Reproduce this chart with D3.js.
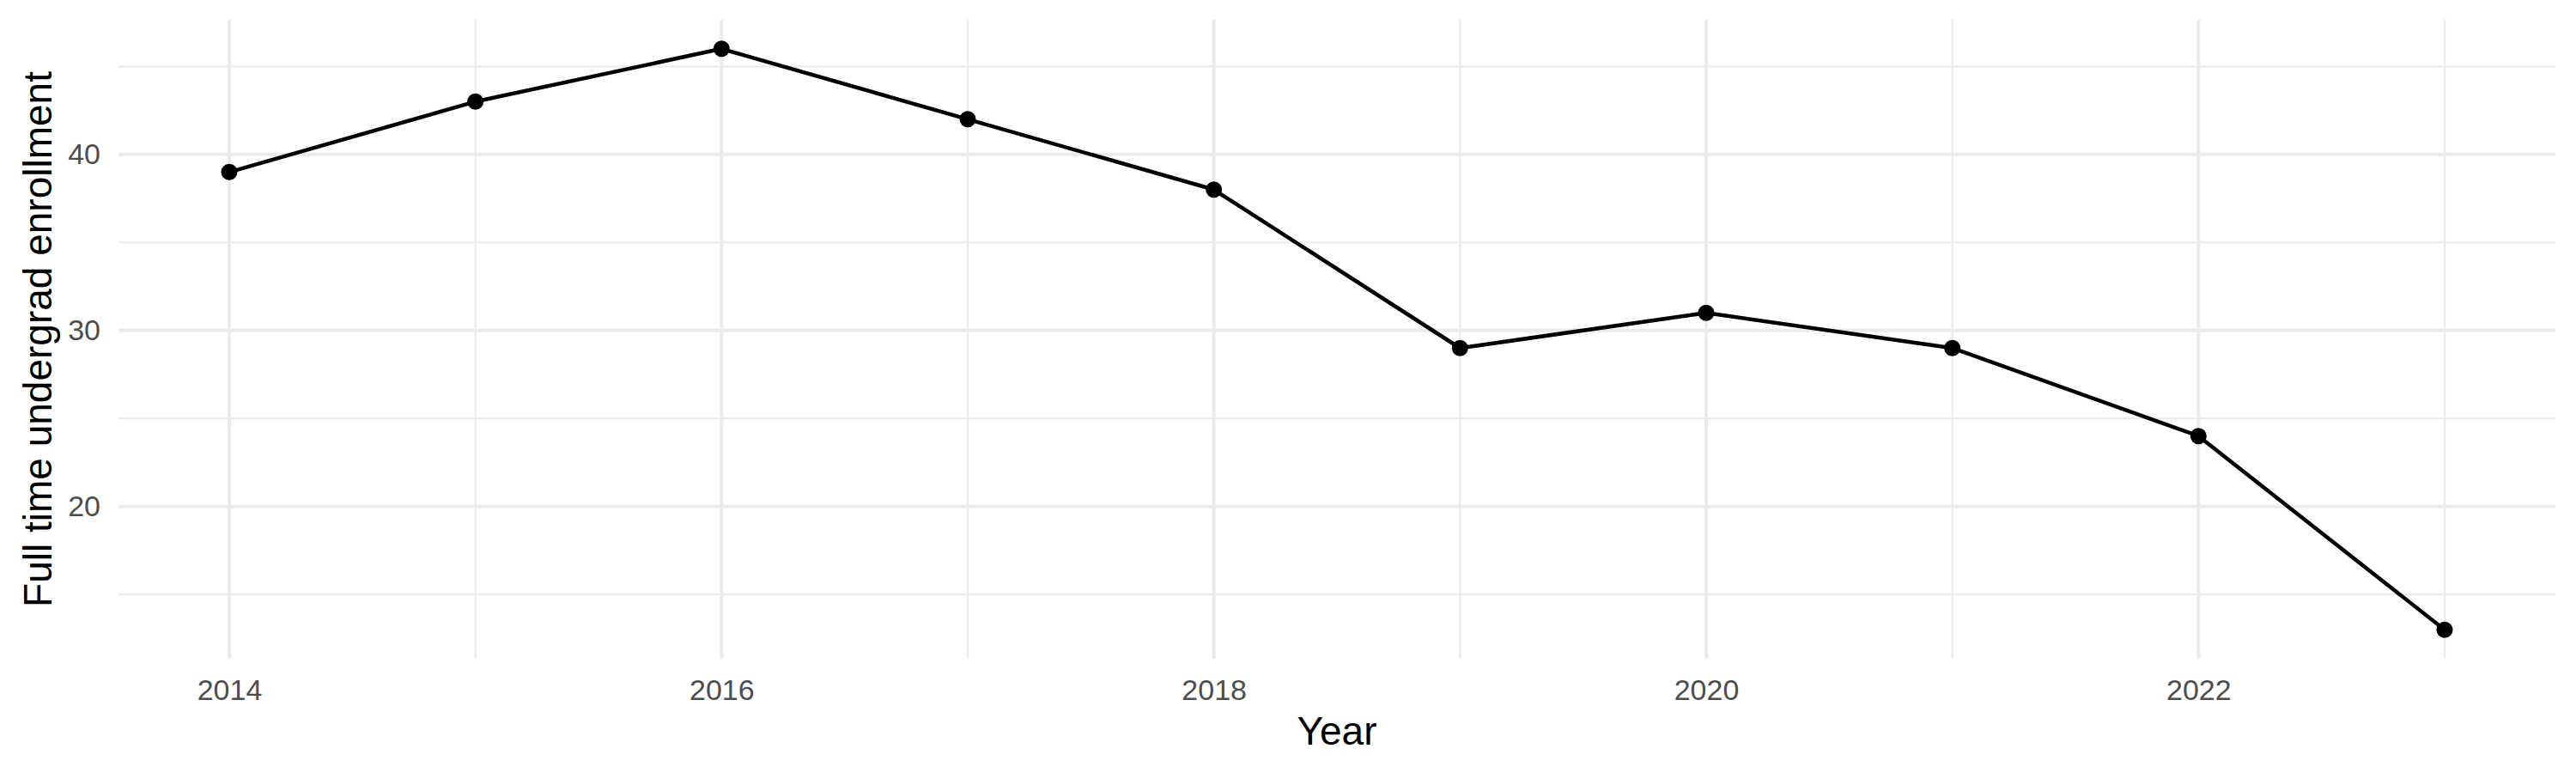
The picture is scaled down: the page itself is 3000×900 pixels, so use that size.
<!DOCTYPE html>
<html lang="en">
<head>
  <meta charset="UTF-8">
  <title>Full time undergrad enrollment</title>
  <script src="https://d3js.org/d3.v7.min.js"></script>
  <style>
    body {
      margin: 0;
      padding: 0;
      background: white;
    }
    svg {
      display: block;
      font-family: 'Liberation Sans', Arial, sans-serif;
    }
    .tick text {
      fill: #4d4d4d;
      font-size: 34px;
    }
    .axis-title {
      fill: black;
      font-size: 46px;
    }
  </style>
</head>
<body>
  <div id="chart"></div>

  <script>
    const years = [2014, 2015, 2016, 2017, 2018, 2019, 2020, 2021, 2022, 2023];
    const enrollment = [39, 43, 46, 42, 38, 29, 31, 29, 24, 13];
    const xBreaks = [2014, 2016, 2018, 2020, 2022];
    const xMinor = [2015, 2017, 2019, 2021, 2023];
    const yBreaks = [20, 30, 40];
    const yMinor = [15, 25, 35, 45];

    const data = years.map((y, i) => ({ year: y, value: enrollment[i] }));

    const width = 3000, height = 900;
    const margin = { top: 23, right: 24, bottom: 133, left: 138 };

    const svg = d3.select("#chart").append("svg")
      .attr("width", width)
      .attr("height", height);

    // ggplot-style 5% expansion on both scales
    const xExt = d3.extent(years), yExt = d3.extent(enrollment);
    const xPad = (xExt[1] - xExt[0]) * 0.05, yPad = (yExt[1] - yExt[0]) * 0.05;

    const x = d3.scaleLinear()
      .domain([xExt[0] - xPad, xExt[1] + xPad])
      .range([margin.left, width - margin.right]);
    const y = d3.scaleLinear()
      .domain([yExt[0] - yPad, yExt[1] + yPad])
      .range([height - margin.bottom, margin.top]);

    const grid = svg.append("g").attr("class", "grid");

    grid.selectAll("line.xminor")
      .data(xMinor).enter().append("line")
      .attr("x1", d => x(d)).attr("x2", d => x(d))
      .attr("y1", y.range()[1]).attr("y2", y.range()[0])
      .attr("stroke", "#ebebeb").attr("stroke-width", 2.2);

    grid.selectAll("line.yminor")
      .data(yMinor).enter().append("line")
      .attr("x1", x.range()[0]).attr("x2", x.range()[1])
      .attr("y1", d => y(d)).attr("y2", d => y(d))
      .attr("stroke", "#ebebeb").attr("stroke-width", 2.2);

    grid.selectAll("line.xmajor")
      .data(xBreaks).enter().append("line")
      .attr("x1", d => x(d)).attr("x2", d => x(d))
      .attr("y1", y.range()[1]).attr("y2", y.range()[0])
      .attr("stroke", "#ebebeb").attr("stroke-width", 4);

    grid.selectAll("line.ymajor")
      .data(yBreaks).enter().append("line")
      .attr("x1", x.range()[0]).attr("x2", x.range()[1])
      .attr("y1", d => y(d)).attr("y2", d => y(d))
      .attr("stroke", "#ebebeb").attr("stroke-width", 4);

    const xAxis = svg.append("g")
      .attr("transform", `translate(0,${height - margin.bottom})`)
      .call(d3.axisBottom(x).tickValues(xBreaks).tickFormat(d3.format("d")).tickSize(0).tickPadding(24));
    const yAxis = svg.append("g")
      .attr("transform", `translate(${margin.left},0)`)
      .call(d3.axisLeft(y).tickValues(yBreaks).tickSize(0).tickPadding(21));
    xAxis.select(".domain").remove();
    yAxis.select(".domain").remove();
    svg.selectAll(".tick text").attr("font-family", null).attr("font-size", null);

    svg.append("path")
      .datum(data)
      .attr("fill", "none")
      .attr("stroke", "black")
      .attr("stroke-width", 4.5)
      .attr("stroke-linejoin", "round")
      .attr("d", d3.line().x(d => x(d.year)).y(d => y(d.value)));

    svg.selectAll("circle")
      .data(data)
      .enter().append("circle")
      .attr("cx", d => x(d.year))
      .attr("cy", d => y(d.value))
      .attr("r", 9.5)
      .attr("fill", "black");

    svg.append("text")
      .attr("class", "axis-title")
      .attr("x", (x.range()[0] + x.range()[1]) / 2)
      .attr("y", 867)
      .attr("text-anchor", "middle")
      .text("Year");

    svg.append("text")
      .attr("class", "axis-title")
      .attr("transform", `translate(60,${(y.range()[0] + y.range()[1]) / 2}) rotate(-90)`)
      .attr("text-anchor", "middle")
      .text("Full time undergrad enrollment");
  </script>
</body>
</html>
